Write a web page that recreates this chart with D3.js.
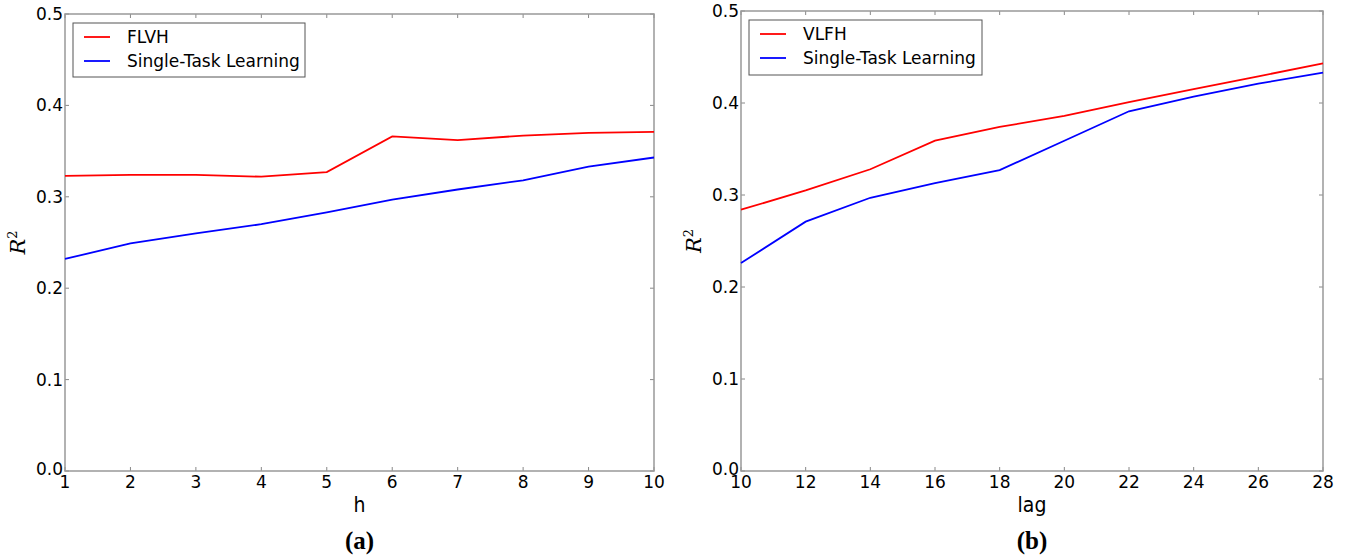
<!DOCTYPE html>
<meta charset="utf-8">
<script src="https://d3js.org/d3.v7.min.js"></script>
<style>
  body { margin: 0; background: #fff; }
  svg text { fill: #000; }
</style>
<div id="chart"></div>
<script>
// ---- data ----
const hValues = [1, 2, 3, 4, 5, 6, 7, 8, 9, 10];
const flvh = [0.323, 0.324, 0.324, 0.322, 0.327, 0.366, 0.362, 0.367, 0.370, 0.371];
const stlA = [0.232, 0.249, 0.260, 0.270, 0.283, 0.297, 0.308, 0.318, 0.333, 0.343];

const lagValues = [10, 12, 14, 16, 18, 20, 22, 24, 26, 28];
const vlfh = [0.284, 0.305, 0.328, 0.359, 0.374, 0.386, 0.401, 0.415, 0.429, 0.443];
const stlB = [0.226, 0.271, 0.297, 0.313, 0.327, 0.359, 0.391, 0.407, 0.421, 0.433];

const yTicks = [0.0, 0.1, 0.2, 0.3, 0.4, 0.5];
const hTicks = [1, 2, 3, 4, 5, 6, 7, 8, 9, 10];
const lagTicks = [10, 12, 14, 16, 18, 20, 22, 24, 26, 28];

const svg = d3.select("#chart").append("svg")
    .attr("width", 1354).attr("height", 559);

function panel(opts) {
  const {left, right, top, bottom, xs, series, xTicks, xLabel, caption, legend} = opts;
  const x = d3.scaleLinear().domain(d3.extent(xs)).range([left, right]);
  const y = d3.scaleLinear().domain([0, 0.5]).range([bottom, top]);
  const g = svg.append("g");

  // ticks (inside, all four sides)
  const tl = 4;
  xTicks.forEach(t => {
    g.append("line").attr("x1", x(t)).attr("x2", x(t)).attr("y1", bottom).attr("y2", bottom - tl).attr("stroke", "#888");
    g.append("line").attr("x1", x(t)).attr("x2", x(t)).attr("y1", top).attr("y2", top + tl).attr("stroke", "#888");
    g.append("text").attr("x", x(t)).attr("y", bottom + 17)
      .attr("text-anchor", "middle")
      .style("font", "17px 'DejaVu Sans'")
      .text(t);
  });
  yTicks.forEach(t => {
    g.append("line").attr("x1", left).attr("x2", left + tl).attr("y1", y(t)).attr("y2", y(t)).attr("stroke", "#888");
    g.append("line").attr("x1", right).attr("x2", right - tl).attr("y1", y(t)).attr("y2", y(t)).attr("stroke", "#888");
    g.append("text").attr("x", left - 2).attr("y", y(t)).attr("dy", t === 0 ? "0.25em" : "0.35em")
      .attr("text-anchor", "end")
      .style("font", "17px 'DejaVu Sans'")
      .text(d3.format(".1f")(t));
  });

  // frame
  g.append("rect").attr("x", left).attr("y", top)
    .attr("width", right - left).attr("height", bottom - top)
    .attr("fill", "none").attr("stroke", "#999").attr("stroke-width", 1.5);

  // lines
  const line = d3.line().x((d, i) => x(xs[i])).y(d => y(d));
  series.forEach(s => {
    g.append("path").datum(s.values).attr("d", line)
      .attr("fill", "none").attr("stroke", s.color).attr("stroke-width", 1.8);
  });

  // legend
  const lg = g.append("g");
  lg.append("rect").attr("x", legend.x).attr("y", legend.y)
    .attr("width", legend.w).attr("height", legend.h)
    .attr("fill", "#fff").attr("stroke", "#555").attr("stroke-width", 1);
  series.forEach((s, i) => {
    const ly = legend.y + 14 + i * 24;
    lg.append("line").attr("x1", legend.x + 11).attr("x2", legend.x + 37)
      .attr("y1", ly).attr("y2", ly).attr("stroke", s.color).attr("stroke-width", 1.8);
    lg.append("text").attr("x", legend.x + 54).attr("y", ly).attr("dy", "0.35em")
      .style("font", "17px 'DejaVu Sans'").text(s.name);
  });

  // axis labels
  g.append("text").attr("x", (left + right) / 2).attr("y", bottom + 41)
    .attr("text-anchor", "middle")
    .style("font", "21px 'DejaVu Sans Condensed', 'DejaVu Sans'")
    .text(xLabel);
  const yl = g.append("text")
    .attr("transform", `translate(${left - 40},${(top + bottom) / 2}) rotate(-90)`)
    .attr("text-anchor", "middle")
    .style("font", "italic 21px 'DejaVu Serif', serif");
  yl.append("tspan").text("R");
  yl.append("tspan").attr("dy", -8).style("font-size", "13px").style("font-style", "normal").text("2");

  g.append("text").attr("x", (left + right) / 2).attr("y", 549)
    .attr("text-anchor", "middle")
    .style("font", "bold 25px 'Liberation Serif', serif")
    .text(caption);
}

panel({
  left: 65, right: 654, top: 14, bottom: 471,
  xs: hValues, xTicks: hTicks, xLabel: "h", caption: "(a)",
  series: [
    {name: "FLVH", values: flvh, color: "#ff0000"},
    {name: "Single-Task Learning", values: stlA, color: "#0000ff"}
  ],
  legend: {x: 73, y: 23, w: 232, h: 54}
});

panel({
  left: 741, right: 1323, top: 11, bottom: 471,
  xs: lagValues, xTicks: lagTicks, xLabel: "lag", caption: "(b)",
  series: [
    {name: "VLFH", values: vlfh, color: "#ff0000"},
    {name: "Single-Task Learning", values: stlB, color: "#0000ff"}
  ],
  legend: {x: 749, y: 20, w: 233, h: 55}
});
</script>
